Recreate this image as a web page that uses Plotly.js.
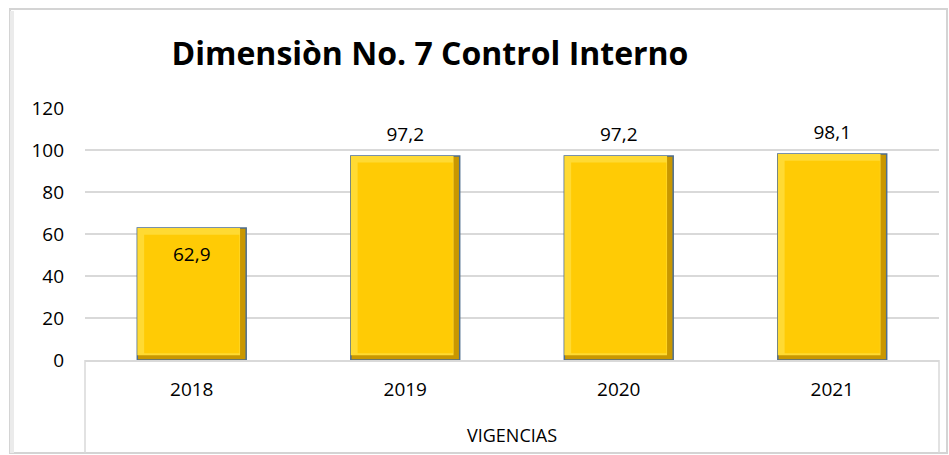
<!DOCTYPE html>
<html><head><meta charset="utf-8">
<script src="https://cdn.plot.ly/plotly-3.0.1.min.js"></script>
<style>html,body{margin:0;padding:0;background:#fff}#c{width:949px;height:455px}</style>
</head><body><div id="c"></div>
<script>
const years = ['2018','2019','2020','2021'];
const values = [62.9, 97.2, 97.2, 98.1];
const labelPos = ['bottom center','top center','top center','top center'];
const yTicks = [0,20,40,60,80,100,120];

const W = 0.51, bx = 0.032, by = 3.2;
const font = 'Open Sans, Noto Sans, sans-serif';

const outer = {type:'bar', x:years, y:values, width:W, offset:-W/2,
  marker:{color:'#C99700', line:{color:'#4E6E8E', width:1.5}}, hoverinfo:'skip'};
const light = {type:'bar', x:years, y:values.map(v=>v-by*0.7), base:by*0.7, width:W-bx*0.9, offset:-W/2,
  marker:{color:'#FFDA33', line:{width:0}}, hoverinfo:'skip'};
const face = {type:'bar', x:years, y:values.map(v=>v-2*by), base:by, width:W-2*bx, offset:-W/2+bx,
  marker:{color:'#FFCB05', line:{width:0}}, hoverinfo:'skip'};
const labels = {type:'scatter', mode:'text+markers', x:years, y:values,
  text:values.map(v=>v.toFixed(1).replace('.',',')), textposition:labelPos,
  marker:{size:[28,14,14,14], opacity:0}, textfont:{family:font, size:19, color:'#000'}, hoverinfo:'skip'};

const layout = {
  width:949, height:455, showlegend:false, barmode:'overlay',
  paper_bgcolor:'#fff', plot_bgcolor:'#fff',
  margin:{l:85, r:10, t:108, b:95},
  title:{text:'<b>Dimensiòn No. 7 Control Interno</b>', font:{family:font, size:32, color:'#000'},
    xref:'container', yref:'container', x:430/949, xanchor:'center', y:1-54/455, yanchor:'middle'},
  xaxis:{type:'category', showgrid:false, ticks:'', showline:true, linecolor:'#d9d9d9', linewidth:1.5,
    tickfont:{family:font, size:19, color:'#000'}, ticklabelstandoff:12,
    title:{text:'VIGENCIAS', font:{family:font, size:18, color:'#000'}, standoff:28}},
  yaxis:{range:[0,120], tickvals:yTicks, showgrid:true, gridcolor:'#d9d9d9', gridwidth:1.5,
    zeroline:false, showline:false, ticks:'', tickfont:{family:font, size:19, color:'#000'},
    ticklabelstandoff:20},
  shapes:[
    {type:'rect', xref:'paper', yref:'paper', x0:-75/854, x1:1+8/854, y0:-93/252, y1:1+99/252,
      line:{color:'#d4d4d4', width:2}, layer:'below'},
    {type:'line', xref:'paper', yref:'paper', x0:-73/854, x1:-73/854, y0:-93/252, y1:1+97/252,
      line:{color:'#ebebeb', width:4}, layer:'below'},
    {type:'line', xref:'paper', yref:'paper', x0:0, x1:0, y0:0, y1:-93/252, line:{color:'#d9d9d9', width:1.5}},
    {type:'line', xref:'paper', yref:'paper', x0:1, x1:1, y0:0, y1:-93/252, line:{color:'#d9d9d9', width:1.5}}
  ]
};
Plotly.newPlot('c', [outer, light, face, labels], layout, {staticPlot:true, displayModeBar:false});
</script></body></html>
